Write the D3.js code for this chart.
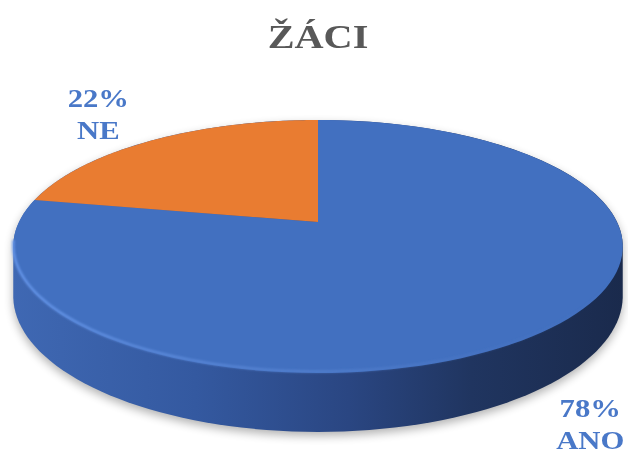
<!DOCTYPE html>
<html>
<head>
<meta charset="utf-8">
<script src="https://cdn.jsdelivr.net/npm/d3@7"></script>
<style>
  body { margin: 0; background: #fff; }
  svg { display: block; }
</style>
</head>
<body>
<svg id="chart" width="628" height="454"></svg>
<script>
var categories = ["ANO", "NE"];
var values = [78, 22];
var percentLabels = ["78%", "22%"];
var title = "ŽÁCI";

var width = 628,
  height = 454,
  cx = 318,
  R = 299,
  persp = -0.1937,   // perspective foreshortening
  tiltA = 78.76,
  tiltB = 222,
  depth = 47.5,
  textStretch = 1.18;

var colour = d3.scaleOrdinal().domain(categories).range(["#4270c0", "#e97c31"]);

var svg = d3.select("#chart");
var defs = svg.append("defs");

// project a point of the unit disk (u right, v toward viewer, h down)
function project(u, v, h) {
  var w = 1 + persp * v;
  return [cx + R * u / w, (tiltA * v + tiltB + depth * h) / w];
}

function rimPoints(a0, a1, h, n) {
  return d3.range(n + 1).map(function (i) {
    var a = a0 + (a1 - a0) * i / n;
    return project(Math.sin(a), -Math.cos(a), h);
  });
}

var pie = d3.pie().sort(null).value(function (d) { return d.value; });
var data = categories.map(function (c, i) {
  return { name: c, value: values[i], label: percentLabels[i] };
});
var arcs = pie(data);

var line = d3.line().curve(d3.curveLinearClosed);

// side gradient
var sideGrad = defs.append("linearGradient")
  .attr("id", "side")
  .attr("gradientUnits", "userSpaceOnUse")
  .attr("x1", 12).attr("x2", 624).attr("y1", 0).attr("y2", 0);
[["0", "#3f68b3"], ["0.3", "#3459a0"], ["0.55", "#2a4682"], ["0.75", "#203560"], ["1", "#1a2a4c"]]
  .forEach(function (s) { sideGrad.append("stop").attr("offset", s[0]).attr("stop-color", s[1]); });

var rimGrad = defs.append("linearGradient")
  .attr("id", "rim")
  .attr("gradientUnits", "userSpaceOnUse")
  .attr("x1", 12).attr("x2", 624).attr("y1", 0).attr("y2", 0);
[["0", "#6a9aee", 0.9], ["0.5", "#5b88d6", 0.6], ["1", "#4a74bf", 0]]
  .forEach(function (s) { rimGrad.append("stop").attr("offset", s[0]).attr("stop-color", s[1]).attr("stop-opacity", s[2]); });

defs.append("filter").attr("id", "shadowBlur")
  .attr("x", "-10%").attr("y", "-10%").attr("width", "120%").attr("height", "130%")
  .append("feGaussianBlur").attr("stdDeviation", 5);
defs.append("filter").attr("id", "soft")
  .append("feGaussianBlur").attr("stdDeviation", 0.9);
defs.append("filter").attr("id", "textBlur")
  .append("feGaussianBlur").attr("stdDeviation", 0.45);

// body of the cylinder = hull of top and bottom rims
var allRim = rimPoints(0, 2 * Math.PI, 0, 180).concat(rimPoints(0, 2 * Math.PI, 1, 180));
var hull = d3.polygonHull(allRim);

svg.append("path")
  .attr("d", line(hull))
  .attr("fill", "#000")
  .attr("opacity", 0.3)
  .attr("transform", "translate(0,4)")
  .attr("filter", "url(#shadowBlur)");

svg.append("path")
  .attr("d", line(hull))
  .attr("fill", "url(#side)");

// top face slices
svg.selectAll(".slice")
  .data(arcs)
  .enter().append("path")
  .attr("class", "slice")
  .attr("fill", function (d) { return colour(d.data.name); })
  .attr("d", function (d) {
    var pts = [project(0, 0, 0)].concat(rimPoints(d.startAngle, d.endAngle, 0, 120));
    return line(pts);
  });

// light rim along the front edge of the top face
svg.append("path")
  .attr("d", d3.line()(rimPoints(Math.PI * 0.55, Math.PI * 1.45, 0, 120).map(function (p) { return [p[0], p[1] - 1.5]; })))
  .attr("fill", "none")
  .attr("stroke", "url(#rim)")
  .attr("stroke-width", 2.5)
  .attr("filter", "url(#soft)");

// labels
var centre = project(0, 0, 0);
var labels = svg.selectAll(".label")
  .data(arcs)
  .enter().append("g")
  .attr("class", "label")
  .attr("filter", "url(#textBlur)")
  .attr("transform", function (d) {
    var a = (d.startAngle + d.endAngle) / 2;
    var v = -Math.cos(a);
    var p = project(Math.sin(a), v, v > 0 ? 1 : 0);
    var dx = p[0] - centre[0], dy = p[1] - centre[1];
    var len = Math.sqrt(dx * dx + dy * dy);
    var x = p[0] + dx / len * 60, y = p[1] + dy / len * 60;
    return "translate(" + x + "," + y + ") scale(" + textStretch + ",1)";
  });

labels.append("text")
  .attr("text-anchor", "middle")
  .attr("y", -7)
  .style("font-family", "'Liberation Serif', 'Times New Roman', serif")
  .style("font-weight", "bold")
  .style("font-size", "26px")
  .attr("fill", "#4a78c8")
  .text(function (d) { return d.data.label; });

labels.append("text")
  .attr("text-anchor", "middle")
  .attr("y", 25)
  .style("font-family", "'Liberation Serif', 'Times New Roman', serif")
  .style("font-weight", "bold")
  .style("font-size", "26px")
  .attr("fill", "#4a78c8")
  .text(function (d) { return d.data.name; });

svg.append("text")
  .attr("transform", "translate(318,48) scale(1.22,1)")
  .attr("text-anchor", "middle")
  .attr("filter", "url(#textBlur)")
  .style("font-family", "'Liberation Serif', 'Times New Roman', serif")
  .style("font-weight", "bold")
  .style("font-size", "33px")
  .attr("fill", "#595959")
  .text(title);
</script>
</body>
</html>
